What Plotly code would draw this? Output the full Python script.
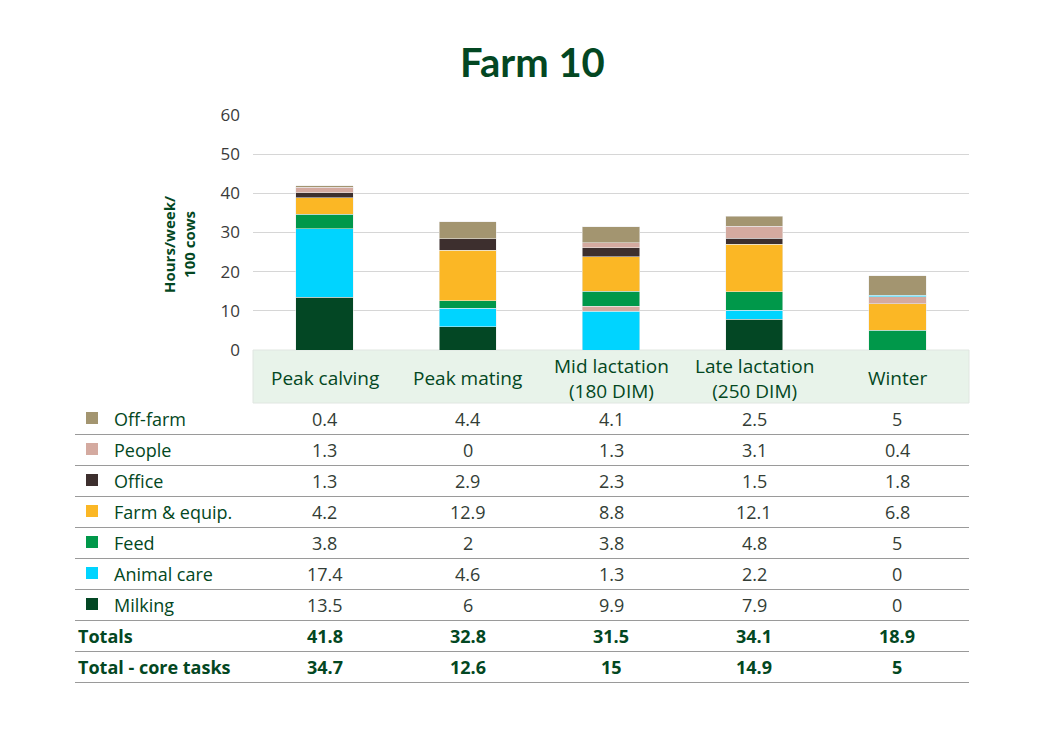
import plotly.graph_objects as go

categories = ["Peak calving", "Peak mating", "Mid lactation<br>(180 DIM)",
              "Late lactation<br>(250 DIM)", "Winter"]

milking = [13.5, 6, 9.9, 7.9, 0]
animal_care = [17.4, 4.6, 1.3, 2.2, 0]
feed = [3.8, 2, 3.8, 4.8, 5]
farm_equip = [4.2, 12.9, 8.8, 12.1, 6.8]
office = [1.3, 2.9, 2.3, 1.5, 1.8]
people = [1.3, 0, 1.3, 3.1, 0.4]
off_farm = [0.4, 4.4, 4.1, 2.5, 5]
totals = [41.8, 32.8, 31.5, 34.1, 18.9]
core_totals = [34.7, 12.6, 15, 14.9, 5]

DARK = "#034722"
FONT = "Open Sans"
C = {
    "Milking": "#034724",
    "Animal care": "#00d4ff",
    "Feed": "#00984a",
    "Farm & equip.": "#fbb725",
    "Office": "#3d2f2e",
    "People": "#d4aaa0",
    "Off-farm": "#a39570",
}

# bottom -> top stacking order
series = [
    ("Milking", milking),
    ("Animal care", animal_care),
    ("Feed", feed),
    ("Farm & equip.", farm_equip),
    ("Office", office),
    ("People", people),
    ("Off-farm", off_farm),
]

# the source chart colours a few segments differently from the legend
overrides = {
    ("Milking", 2): "Animal care",
    ("Animal care", 2): "People",
    ("Office", 4): "People",
    ("People", 4): "Animal care",
}

fig = go.Figure()
for name, vals in series:
    cols = [C[overrides.get((name, i), name)] for i in range(len(vals))]
    fig.add_trace(go.Bar(
        x=categories, y=vals, name=name, width=0.4,
        marker=dict(color=cols, line=dict(color="rgba(235,235,235,0.9)", width=0.6)),
        showlegend=False,
    ))

# page body adds an 8px margin, so work in screen pixels minus that
OFF = 8
W, H = 1063 - OFF, 750 - OFF
L, R, T, B = 253 - OFF, 969 - OFF, 115 - OFF, 350 - OFF


def px(p):
    return (p - OFF - L) / (R - L)


def py(p):
    return (B - (p - OFF)) / (B - T)


shapes = []
ann = []


def text(x, y, s, size=18, color=DARK, xref="paper", xanchor="center", family=FONT, **kw):
    ann.append(dict(x=x, xref=xref, y=y, yref="paper", text=s, showarrow=False,
                    xanchor=xanchor, yanchor="middle",
                    font=dict(size=size, color=color, family=family), **kw))


# header band with category labels
shapes.append(dict(type="rect", xref="paper", yref="paper", x0=0, x1=1,
                   y0=py(403), y1=py(350), fillcolor="#e8f3ea",
                   line=dict(color="#e0e6e1", width=1), layer="below"))
for c in categories:
    text(c, py(378), c, xref="x", size=19)

# table rows
rows = list(reversed(series))
row_y0 = 419
step = 31
for i, (name, vals) in enumerate(rows):
    yc = row_y0 + i * step
    shapes.append(dict(type="rect", xref="paper", yref="paper",
                       x0=px(86), x1=px(98), y0=py(yc + 5), y1=py(yc - 7),
                       fillcolor=C[name], line=dict(width=0)))
    text(px(112), py(yc), name, xanchor="left")
    for c, v in zip(categories, vals):
        text(c, py(yc), f"{v:g}", xref="x", color="#333d36")

for j, (label, vals) in enumerate([("Totals", totals), ("Total - core tasks", core_totals)]):
    yc = row_y0 + (len(rows) + j) * step
    text(px(76), py(yc), f"<b>{label}</b>", xanchor="left")
    for c, v in zip(categories, vals):
        text(c, py(yc), f"<b>{v:g}</b>", xref="x")

for k in range(len(rows) + 2):
    yl = row_y0 + 15.5 + k * step
    shapes.append(dict(type="line", xref="paper", yref="paper", x0=px(75), x1=1,
                       y0=py(yl), y1=py(yl), line=dict(color="#9a9a9a", width=1)))

# y axis title
text(px(179), py(244), "<b>Hours/week/<br>100 cows</b>", size=15, textangle=-90)

# title
text(px(532), py(62), "<b>Farm 10</b>", size=40, family="Lato")

fig.update_layout(
    barmode="stack",
    width=W, height=H,
    margin=dict(l=L, r=W - R, t=T, b=H - B),
    plot_bgcolor="white", paper_bgcolor="white",
    shapes=shapes, annotations=ann,
    xaxis=dict(showticklabels=False, showgrid=False, zeroline=False, ticks=""),
    yaxis=dict(range=[0, 60], dtick=10, showgrid=True, gridcolor="#d6d6d6", gridwidth=1,
               zeroline=False, ticklabelstandoff=12,
               tickfont=dict(size=17, color="#3a3a3a", family=FONT)),
    font=dict(family=FONT),
)

fig.write_html("out.html")
